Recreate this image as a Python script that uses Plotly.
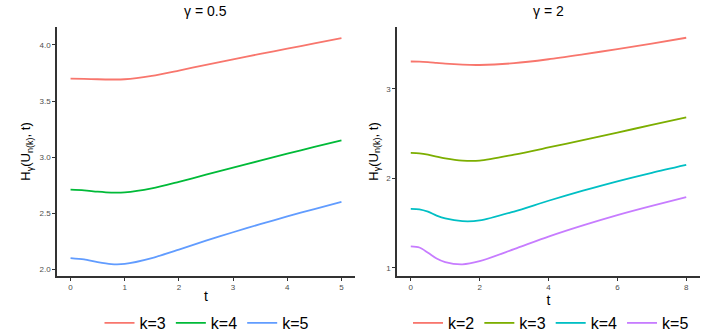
import plotly.graph_objects as go
from plotly.subplots import make_subplots

# gamma = 0.5 panel
t_left = [0, 0.25, 0.5, 0.75, 1, 1.5, 2, 2.5, 3, 3.5, 4, 4.5, 5]
left_k3 = [3.700, 3.698, 3.694, 3.692, 3.694, 3.725, 3.772, 3.822, 3.872, 3.920, 3.967, 4.013, 4.060]
left_k4 = [2.710, 2.704, 2.692, 2.684, 2.686, 2.722, 2.780, 2.843, 2.906, 2.968, 3.030, 3.091, 3.150]
left_k5 = [2.100, 2.088, 2.063, 2.046, 2.048, 2.100, 2.175, 2.255, 2.330, 2.402, 2.471, 2.537, 2.600]

# gamma = 2 panel
t_right = [0, 0.25, 0.5, 0.75, 1, 1.5, 2, 3, 4, 5, 6, 7, 8]
right_k2 = [3.305, 3.304, 3.298, 3.289, 3.280, 3.269, 3.266, 3.286, 3.330, 3.385, 3.443, 3.505, 3.570]
right_k3 = [2.285, 2.280, 2.265, 2.243, 2.223, 2.198, 2.198, 2.265, 2.345, 2.428, 2.512, 2.596, 2.680]
right_k4 = [1.660, 1.655, 1.628, 1.585, 1.553, 1.522, 1.530, 1.630, 1.750, 1.862, 1.967, 2.062, 2.150]
right_k5 = [1.240, 1.228, 1.170, 1.105, 1.065, 1.040, 1.075, 1.210, 1.350, 1.475, 1.590, 1.693, 1.790]

left_ticks_x = [0, 1, 2, 3, 4, 5]
left_ticks_y = [2.0, 2.5, 3.0, 3.5, 4.0]
right_ticks_x = [0, 2, 4, 6, 8]
right_ticks_y = [1, 2, 3]

FONT = "Liberation Sans, Arial, sans-serif"
W, H = 725, 336


def fx(px):
    return px / W


def fy(py):
    return 1 - py / H


fig = make_subplots(rows=1, cols=2)

left_series = [("k=3", left_k3, "#F8766D"), ("k=4", left_k4, "#00BA38"), ("k=5", left_k5, "#619CFF")]
right_series = [("k=2", right_k2, "#F8766D"), ("k=3", right_k3, "#7CAE00"),
                ("k=4", right_k4, "#00BFC4"), ("k=5", right_k5, "#C77CFF")]

for name, vals, col in left_series:
    fig.add_trace(go.Scatter(x=t_left, y=vals, name=name, mode="lines",
                             line=dict(color=col, width=1.8, shape="spline", smoothing=0.8),
                             legend="legend"), row=1, col=1)
for name, vals, col in right_series:
    fig.add_trace(go.Scatter(x=t_right, y=vals, name=name, mode="lines",
                             line=dict(color=col, width=1.8, shape="spline", smoothing=0.8),
                             legend="legend2"), row=1, col=2)

ylab = "H<sub>γ</sub>(U<sub>n(k)</sub>, t)"
axis_style = dict(showgrid=False, zeroline=False, showline=True, linecolor="#333333", linewidth=1.5,
                  ticks="outside", ticklen=3, tickcolor="#333333", automargin=False,
                  tickfont=dict(size=8, color="#4D4D4D", family=FONT))

fig.update_xaxes(axis_style)
fig.update_yaxes(axis_style)

ydom = [fy(276), fy(27)]
fig.update_xaxes(domain=[fx(57), fx(355)], range=[-0.25, 5.25], tickvals=left_ticks_x,
                 title=dict(text="t", font=dict(size=14, color="black", family=FONT), standoff=0),
                 row=1, col=1)
fig.update_yaxes(domain=ydom, range=[1.94, 4.16], tickvals=left_ticks_y,
                 tickformat=".1f",
                 title=dict(text=ylab, font=dict(size=13, color="black", family=FONT), standoff=6),
                 row=1, col=1)
fig.update_xaxes(domain=[fx(397), fx(700)], range=[-0.4, 8.4], tickvals=right_ticks_x,
                 title=dict(text="t", font=dict(size=14, color="black", family=FONT), standoff=0),
                 row=1, col=2)
fig.update_yaxes(domain=ydom, range=[0.91, 3.69], tickvals=right_ticks_y,
                 title=dict(text=ylab, font=dict(size=13, color="black", family=FONT), standoff=5),
                 row=1, col=2)

fig.add_annotation(text="γ = 0.5", x=0.5, xref="x domain", y=fy(11), yref="paper",
                   yanchor="middle", showarrow=False, font=dict(size=14, color="black", family=FONT))
fig.add_annotation(text="γ = 2", x=0.5, xref="x2 domain", y=fy(11), yref="paper",
                   yanchor="middle", showarrow=False, font=dict(size=14, color="black", family=FONT))

legend_style = dict(orientation="h", yanchor="middle", y=fy(323), xanchor="center",
                    font=dict(size=16, color="black", family=FONT), itemwidth=30,
                    bgcolor="rgba(0,0,0,0)", tracegroupgap=0)

fig.update_layout(
    width=W, height=H,
    margin=dict(l=0, r=0, t=0, b=0, autoexpand=False),
    plot_bgcolor="white", paper_bgcolor="white",
    font=dict(family=FONT),
    legend=dict(legend_style, x=fx(207)),
    legend2=dict(legend_style, x=fx(551)),
)

# drop the browser's default 8px body margin so the figure sits at the window corner
fig.write_html("out.html", config={"displayModeBar": False},
               post_script="document.body.style.margin='0px';")
